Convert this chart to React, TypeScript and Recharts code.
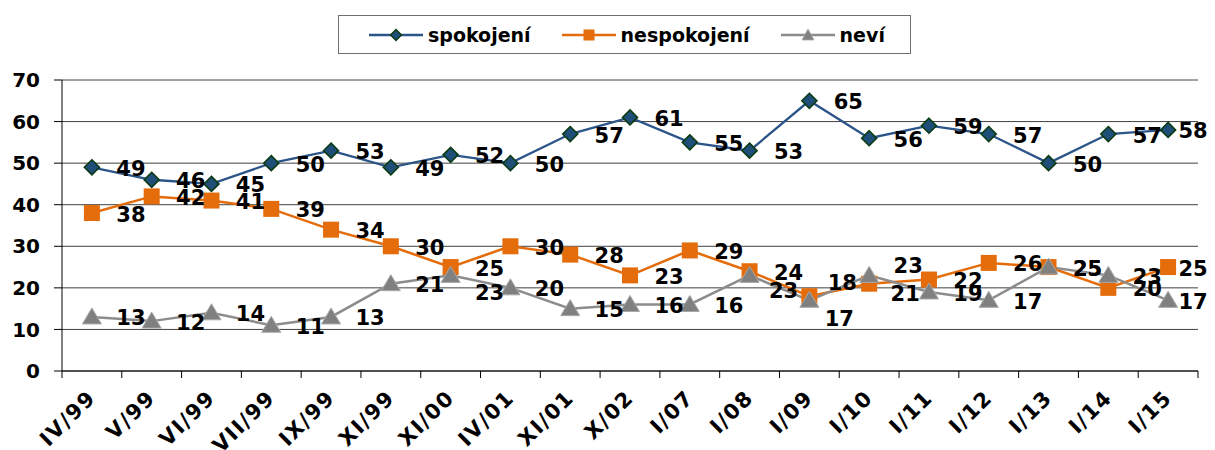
import React from 'react';
import { LineChart, Line, XAxis, YAxis, CartesianGrid, Legend, LabelList } from 'recharts';

const categories = ['IV/99', 'V/99', 'VI/99', 'VII/99', 'IX/99', 'XI/99', 'XI/00', 'IV/01', 'XI/01', 'X/02', 'I/07', 'I/08', 'I/09', 'I/10', 'I/11', 'I/12', 'I/13', 'I/14', 'I/15'];
const spokojeni = [49, 46, 45, 50, 53, 49, 52, 50, 57, 61, 55, 53, 65, 56, 59, 57, 50, 57, 58];
const nespokojeni = [38, 42, 41, 39, 34, 30, 25, 30, 28, 23, 29, 24, 18, 21, 22, 26, 25, 20, 25];
const nevi = [13, 12, 14, 11, 13, 21, 23, 20, 15, 16, 16, 23, 17, 23, 19, 17, 25, 23, 17];
const yTicks = [0, 10, 20, 30, 40, 50, 60, 70];
const seriesNames = { spokojeni: 'spokojení', nespokojeni: 'nespokojení', nevi: 'neví' };

const data = categories.map((c, i) => ({
  x: i + 0.5,
  cat: c,
  spokojeni: spokojeni[i],
  nespokojeni: nespokojeni[i],
  nevi: nevi[i],
}));
const xTicks = categories.map((_, i) => i + 0.5);

const FONT = '"DejaVu Sans", Verdana, sans-serif';
const W = 1215;
const H = 450;
const PLOT_LEFT = 62;
const PLOT_RIGHT = 1198;
const AXIS_Y = 371;
const BAND = (PLOT_RIGHT - PLOT_LEFT) / categories.length;

const BLUE = '#2B5489';
const BLUE_FILL = '#1F4E79';
const GREEN_STROKE = '#0B3B12';
const ORANGE = '#E46C0A';
const GRAY = '#8C8C8C';
const GRAY_FILL = '#808080';

// small label nudges (style only) for overlapping labels, as Excel had them
const labelNudges: Record<string, Record<number, [number, number]>> = {
  nespokojeni: { 12: [-6, -15], 13: [-3, 9] },
  nevi: { 6: [0, 16], 11: [-5, 14], 12: [-9, 17], 13: [0, -11] },
};

const Diamond = (props: any) => {
  const { cx, cy } = props;
  if (cx == null || cy == null) return null;
  const r = 7.5;
  return (
    <polygon
      points={`${cx},${cy - r} ${cx + r},${cy} ${cx},${cy + r} ${cx - r},${cy}`}
      fill={BLUE_FILL}
      stroke={GREEN_STROKE}
      strokeWidth={1.6}
    />
  );
};

const Square = (props: any) => {
  const { cx, cy } = props;
  if (cx == null || cy == null) return null;
  const s = 8;
  return <rect x={cx - s} y={cy - s} width={2 * s} height={2 * s} fill={ORANGE} />;
};

const Triangle = (props: any) => {
  const { cx, cy } = props;
  if (cx == null || cy == null) return null;
  return (
    <polygon
      points={`${cx},${cy - 9} ${cx + 9.5},${cy + 7} ${cx - 9.5},${cy + 7}`}
      fill={GRAY_FILL}
      stroke="#A8A8A8"
      strokeWidth={1}
    />
  );
};

const makeLabel = (key: string) => (props: any) => {
  const { x, y, value, index } = props;
  const n = (labelNudges[key] && labelNudges[key][index]) || [0, 0];
  const dx = index === categories.length - 1 ? 25 : 39;
  return (
    <text
      x={x + dx + n[0]}
      y={y + 1.5 + n[1]}
      textAnchor="middle"
      dominantBaseline="central"
      fontFamily={FONT}
      fontWeight="bold"
      fontSize={21}
      fill="#000"
    >
      {value}
    </text>
  );
};

const XTick = (props: any) => {
  const { x, payload, index } = props;
  const half = BAND / 2;
  const tx = x + 5;
  const ty = AXIS_Y + 28;
  const label = categories[Math.round(payload.value - 0.5)];
  return (
    <g>
      <line x1={x - half} x2={x - half} y1={AXIS_Y} y2={AXIS_Y + 7} stroke="#000" strokeWidth={1} />
      {index === categories.length - 1 && (
        <line x1={x + half} x2={x + half} y1={AXIS_Y} y2={AXIS_Y + 7} stroke="#000" strokeWidth={1} />
      )}
      <text
        x={tx}
        y={ty}
        transform={`rotate(-45 ${tx} ${ty})`}
        textAnchor="end"
        fontFamily={FONT}
        fontWeight="bold"
        fontSize={21}
        letterSpacing={1.5}
        fill="#000"
      >
        {label}
      </text>
    </g>
  );
};

const LegendIcon = ({ kind }: { kind: string }) => {
  const color = kind === 'spokojeni' ? BLUE : kind === 'nespokojeni' ? ORANGE : GRAY;
  return (
    <svg width={54} height={20} style={{ display: 'block' }}>
      <line x1={0} x2={54} y1={10} y2={10} stroke={color} strokeWidth={2.5} />
      {kind === 'spokojeni' && (
        <polygon points="27,4.5 32.5,10 27,15.5 21.5,10" fill={BLUE_FILL} stroke={GREEN_STROKE} strokeWidth={1.4} />
      )}
      {kind === 'nespokojeni' && <rect x={21.5} y={4.5} width={11} height={11} fill={ORANGE} />}
      {kind === 'nevi' && <polygon points="27,4 33,15 21,15" fill={GRAY_FILL} stroke="#A8A8A8" strokeWidth={0.8} />}
    </svg>
  );
};

const LegendContent = () => {
  const keys = ['spokojeni', 'nespokojeni', 'nevi'];
  return (
    <div style={{ width: W, height: 65, position: 'relative' }}>
      <div
        style={{
          position: 'absolute',
          left: 338,
          top: 0,
          width: 573,
          height: 39,
          boxSizing: 'border-box',
          border: '1.5px solid #707070',
          display: 'flex',
          alignItems: 'center',
          paddingLeft: 30,
          background: '#fff',
        }}
      >
        {keys.map((k, i) => (
          <div key={k} style={{ display: 'flex', alignItems: 'center', marginLeft: i === 0 ? 0 : 31 }}>
            <LegendIcon kind={k} />
            <span
              style={{
                marginLeft: 5,
                fontFamily: FONT,
                fontWeight: 'bold',
                fontSize: 19,
                color: '#000',
                lineHeight: '20px',
              }}
            >
              {(seriesNames as any)[k]}
            </span>
          </div>
        ))}
      </div>
    </div>
  );
};

export default function App() {
  return (
    <div style={{ position: 'absolute', left: 0, top: 0, width: W, height: H, background: '#fff' }}>
      <LineChart
        width={W}
        height={H}
        data={data}
        margin={{ top: 15, right: W - PLOT_RIGHT, bottom: 0, left: 0 }}
      >
        <Legend
          verticalAlign="top"
          align="left"
          content={<LegendContent />}
          wrapperStyle={{ left: 0, top: 15, width: W, height: 65 }}
        />
        <CartesianGrid vertical={false} horizontal stroke="#404040" strokeWidth={1} />
        <XAxis
          dataKey="x"
          type="number"
          domain={[0, categories.length]}
          ticks={xTicks}
          interval={0}
          height={H - AXIS_Y}
          tickLine={false}
          tickSize={0}
          tickMargin={0}
          axisLine={{ stroke: '#000', strokeWidth: 1 }}
          tick={<XTick />}
          allowDecimals
        />
        <YAxis
          domain={[0, 70]}
          ticks={yTicks}
          interval={0}
          width={PLOT_LEFT}
          tickSize={8}
          tickMargin={14}
          axisLine={{ stroke: '#000', strokeWidth: 1 }}
          tickLine={{ stroke: '#000', strokeWidth: 1 }}
          tick={{ fontFamily: FONT, fontWeight: 'bold', fontSize: 20, fill: '#000' }}
        />
        <Line
          dataKey="spokojeni"
          name={seriesNames.spokojeni}
          stroke={BLUE}
          strokeWidth={2.3}
          dot={<Diamond />}
          activeDot={false}
          isAnimationActive={false}
        >
          <LabelList dataKey="spokojeni" content={makeLabel('spokojeni')} />
        </Line>
        <Line
          dataKey="nespokojeni"
          name={seriesNames.nespokojeni}
          stroke={ORANGE}
          strokeWidth={2.5}
          dot={<Square />}
          activeDot={false}
          isAnimationActive={false}
        >
          <LabelList dataKey="nespokojeni" content={makeLabel('nespokojeni')} />
        </Line>
        <Line
          dataKey="nevi"
          name={seriesNames.nevi}
          stroke={GRAY}
          strokeWidth={2.5}
          dot={<Triangle />}
          activeDot={false}
          isAnimationActive={false}
        >
          <LabelList dataKey="nevi" content={makeLabel('nevi')} />
        </Line>
      </LineChart>
    </div>
  );
}
